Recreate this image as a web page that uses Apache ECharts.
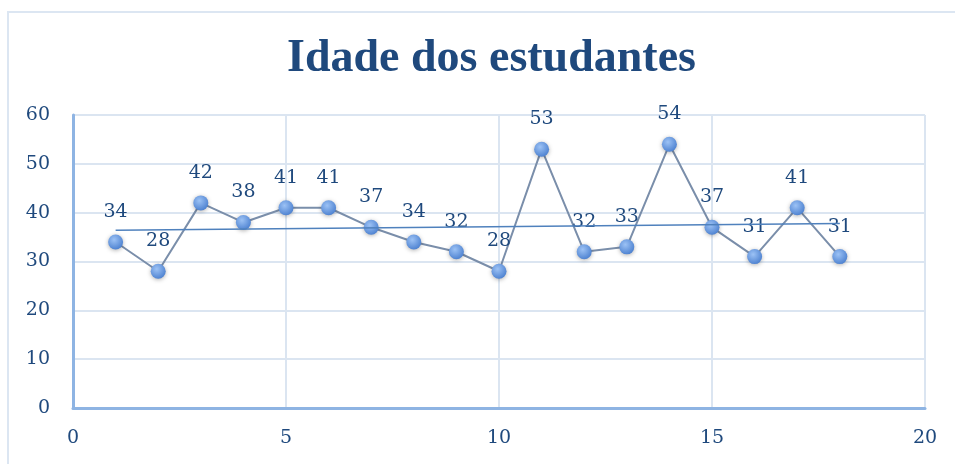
<!DOCTYPE html>
<html>
<head>
<meta charset="utf-8">
<script src="https://cdn.jsdelivr.net/npm/echarts@6/dist/echarts.min.js"></script>
<style>html,body{margin:0;padding:0;background:#fff}#c{width:955px;height:464px}</style>
</head>
<body>
<div id="c"></div>
<script>
var titleText = 'Idade dos estudantes';
var studentIndex = [1,2,3,4,5,6,7,8,9,10,11,12,13,14,15,16,17,18];
var ages = [34,28,42,38,41,41,37,34,32,28,53,32,33,54,37,31,41,31];
var trendX = [1,18];
var trendY = [36.4,37.8];
var xTicks = [0,5,10,15,20];
var yTicks = [0,10,20,30,40,50,60];

var serif = 'DejaVu Serif';
var dark = '#1f497d';
var pts = studentIndex.map(function(x,i){return [x, ages[i]];});
var trend = trendX.map(function(x,i){return [x, trendY[i]];});

var chart = echarts.init(document.getElementById('c'));
chart.setOption({
  animation:false,
  title:{text:titleText,left:282,top:31,textStyle:{fontFamily:'Liberation Serif',fontWeight:'bold',fontSize:46,color:dark}},
  graphic:[{type:'rect',shape:{x:8,y:12,width:1000,height:1000},style:{fill:'none',stroke:'#dce6f2',lineWidth:2},silent:true}],
  grid:{left:73,right:30,top:115,bottom:56},
  xAxis:{type:'value',min:xTicks[0],max:xTicks[xTicks.length-1],interval:5,
    axisLine:{show:true,lineStyle:{color:'#8eb4e3',width:3}},axisTick:{show:false},
    axisLabel:{fontFamily:serif,fontSize:19,color:dark,margin:21},
    splitLine:{show:true,lineStyle:{color:'#dbe5f1',width:2}}},
  yAxis:{type:'value',min:yTicks[0],max:yTicks[yTicks.length-1],interval:10,
    axisLine:{show:true,lineStyle:{color:'#8eb4e3',width:3}},axisTick:{show:false},
    axisLabel:{fontFamily:serif,fontSize:19,color:dark,margin:23},
    splitLine:{show:true,lineStyle:{color:'#dbe5f1',width:2}}},
  series:[
    {type:'line',data:pts,symbol:'circle',symbolSize:15,z:3,
     lineStyle:{color:'#7a8eaa',width:2},
     itemStyle:{color:new echarts.graphic.RadialGradient(0.4,0.35,0.7,[{offset:0,color:'#9cc2f5'},{offset:1,color:'#4a7fcf'}]),borderWidth:0,shadowBlur:4,shadowColor:'rgba(0,0,0,0.3)',shadowOffsetY:1},
     label:{show:true,position:'top',distance:13,fontFamily:serif,fontSize:19,color:dark}},
    {type:'line',data:trend,symbol:'none',z:4,lineStyle:{color:'#4f81bd',width:1.5},silent:true}
  ]
});
</script>
</body>
</html>
